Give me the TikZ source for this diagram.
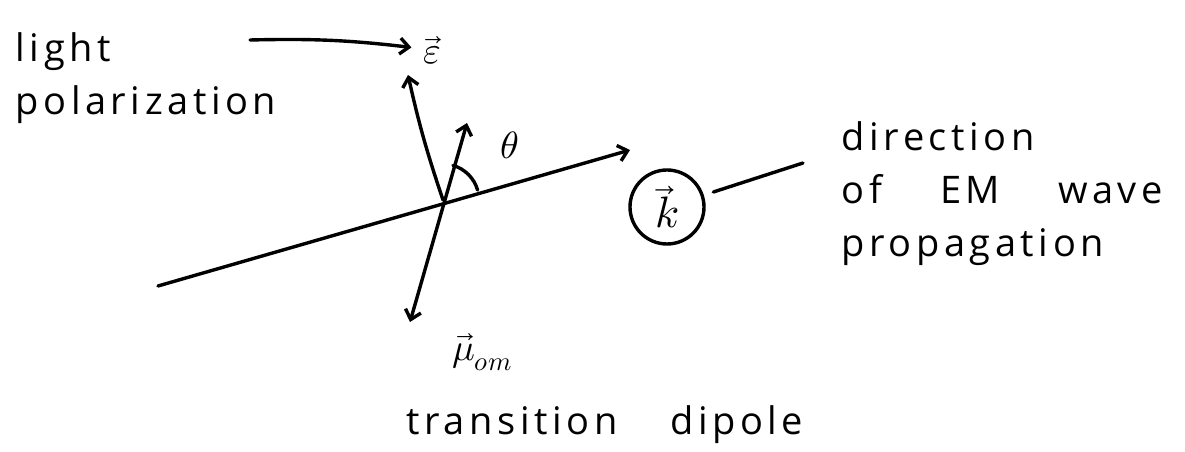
\documentclass[tikz,border=0pt]{standalone}
\usepackage{fontspec}
\usepackage{unicode-math}
\setmainfont{Open Sans}[LetterSpace=12]
\usetikzlibrary{arrows.meta,positioning}

\begin{document}
\begin{tikzpicture}[x=1pt, y=1pt, line width=3.4pt, line cap=round,
  >={Straight Barb[length=9pt,width=16pt]},
  every node/.style={font=\fontsize{38}{53}\selectfont, inner sep=0pt},
  note/.style={align=left, anchor=base west}]
  \useasboundingbox (0,0) rectangle (1185,452);

  % labels are anchored at the baseline of their last line
  \node[note] (polar) at (14,337) {light\\polarization};
  \node[inner sep=10pt] (eps) at (432,402) {$\vec{\varepsilon}$};
  \coordinate (lstart) at (250,412);
  \draw[->] (lstart) to[bend left=4] (eps);

  \coordinate (cross) at (443,252);
  \coordinate (etop) at (408,377);
  \coordinate (mtop) at (467,329);
  \coordinate (mbot) at (410,130);
  \coordinate (kstart) at (158,166);
  \coordinate (ktip) at (630,302);
  \draw[->] (cross) to[bend left=3] (etop);
  \draw[<->] (mbot) -- (mtop);
  \draw[->] (kstart) -- (ktip);
  \draw (cross) ++(16:36) arc[start angle=16, end angle=74, radius=36];
  \node (theta) at (510,307) {$\theta$};

  \node[draw, circle, minimum size=74pt, font=\fontsize{44}{50}\selectfont] (kvec) at (667,245) {$\vec{k}$};
  \coordinate (kend) at (803,289);
  \draw[shorten <=10pt] (kvec) -- (kend);
  \node[note] (wave) at (840,195) {direction\\of\hspace{58pt}EM\hspace{58pt}wave\\propagation};

  \node (mu) at (482,100) {$\vec{\mu}_{om}$};
  \node[note] (dipole) at (405,17) {transition\hspace{53pt}dipole};
\end{tikzpicture}
\end{document}
